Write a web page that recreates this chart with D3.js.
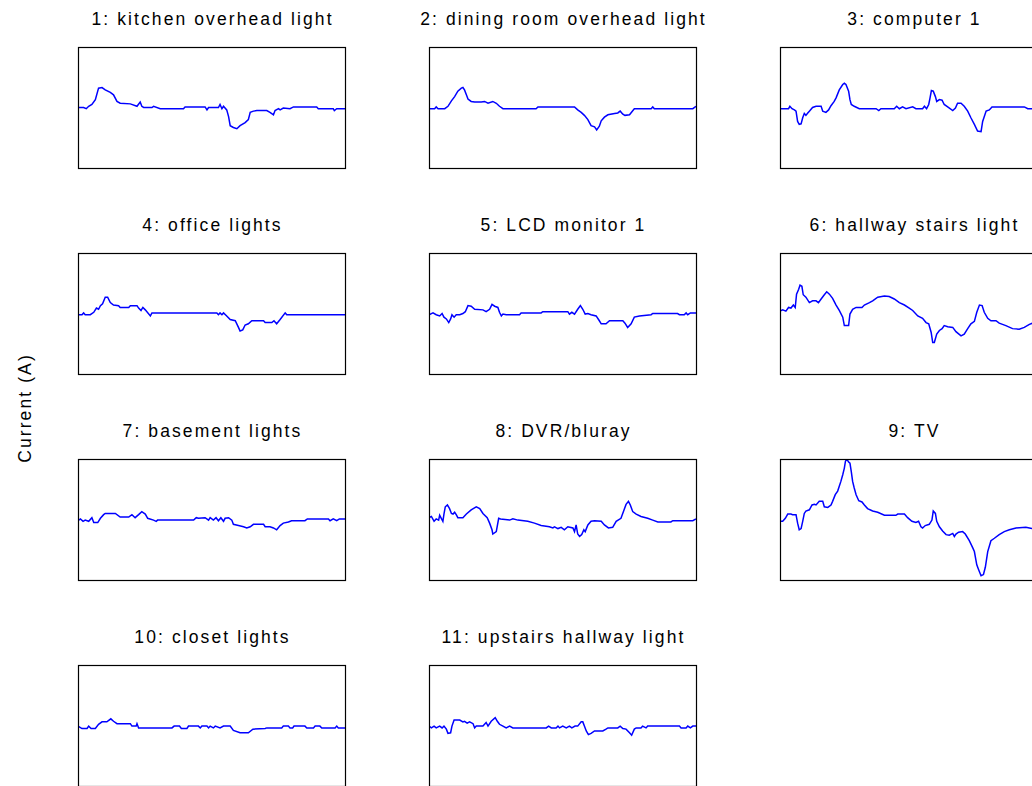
<!DOCTYPE html>
<html>
<head>
<meta charset="utf-8">
<script src="https://cdn.jsdelivr.net/npm/d3@7"></script>
<style>
  body { margin: 0; background: #fff; }
  svg { display: block; }
  text { font-family: "Liberation Sans", Arial, Helvetica, sans-serif; font-size: 17.5px; letter-spacing: 2.1px; fill: #000; }
</style>
</head>
<body>
<div id="chart"></div>
<script>
// Appliance names, one small panel each
const titles = [
  "1: kitchen overhead light",
  "2: dining room overhead light",
  "3: computer 1",
  "4: office lights",
  "5: LCD monitor 1",
  "6: hallway stairs light",
  "7: basement lights",
  "8: DVR/bluray",
  "9: TV",
  "10: closet lights",
  "11: upstairs hallway light"
];

const yLabel = "Current (A)";

// Normalized current signatures: [sample position (0-100), current]
const kitchenOverhead = [[0,0],[2.1,0],[3.1,-0.02],[4.0,0.02],[5.2,0.05],[6.5,0.13],[7.7,0.32],[9.0,0.33],[10.2,0.29],[12.1,0.25],[13.3,0.21],[14.6,0.10],[15.8,0.07],[19.6,0.06],[22.1,0.02],[23.3,0.09],[23.9,0.02],[24.6,0],[27.7,0],[28.3,0.02],[30.8,-0.02],[39.5,-0.02],[40.1,0.01],[47.6,0.01],[48.3,-0.04],[48.9,0],[52.6,0],[53.2,0.05],[53.9,-0.02],[54.5,0.02],[55.7,-0.04],[56.4,-0.15],[57.0,-0.30],[58.2,-0.33],[59.5,-0.35],[60.7,-0.30],[62.6,-0.25],[63.8,-0.20],[64.5,-0.08],[65.7,-0.06],[67.0,-0.05],[70.7,-0.05],[71.9,-0.08],[73.2,-0.12],[73.8,-0.05],[75.1,-0.02],[75.7,-0.04],[76.9,-0.01],[79.4,-0.02],[80.7,0.01],[89.4,0.01],[90.0,-0.02],[95.6,-0.02],[96.0,-0.05],[96.9,-0.02],[100,-0.02]];

const diningOverhead = [[0,-0.02],[2.1,-0.02],[2.7,0.01],[3.4,-0.02],[5.9,-0.02],[7.1,0.02],[8.4,0.11],[9.6,0.18],[10.8,0.27],[12.1,0.32],[12.7,0.33],[13.3,0.29],[14.0,0.21],[14.6,0.14],[15.8,0.10],[17.1,0.09],[19.6,0.09],[20.8,0.10],[22.1,0.07],[23.9,0.10],[25.2,0.07],[26.4,0.02],[27.7,-0.02],[40.1,-0.02],[40.8,0.01],[54.5,0.01],[55.7,-0.04],[57.0,-0.08],[58.2,-0.13],[59.5,-0.20],[60.7,-0.30],[62.0,-0.32],[62.8,-0.37],[63.8,-0.31],[64.5,-0.22],[65.7,-0.16],[67.0,-0.12],[69.5,-0.10],[70.7,-0.09],[71.6,-0.06],[72.6,-0.11],[73.4,-0.13],[75.1,-0.12],[76.9,-0.02],[83.2,-0.02],[83.8,0.01],[84.4,-0.02],[98.8,-0.02],[100,0.02]];

const computer1 = [[0,-0.02],[3.2,-0.02],[3.7,0.02],[4.5,-0.02],[5.4,-0.04],[6.0,-0.06],[6.6,-0.23],[7.2,-0.28],[7.9,-0.27],[8.5,-0.17],[9.1,-0.10],[9.7,-0.13],[10.4,-0.09],[11.0,-0.06],[12.2,0],[13.5,0.02],[15.4,0.02],[16.0,-0.06],[17.2,-0.08],[18.2,-0.04],[19.1,0.03],[20.3,0.10],[21.0,0.16],[22.2,0.29],[23.5,0.38],[24.1,0.40],[24.7,0.38],[25.7,0.27],[26.2,0.13],[26.7,0.05],[27.8,0.02],[29.7,-0.02],[36.0,-0.02],[37.0,-0.05],[37.8,-0.02],[42.8,-0.02],[43.7,0.02],[44.7,-0.02],[45.9,0.01],[47.2,-0.02],[49.7,0.01],[50.9,-0.02],[53.4,-0.02],[54.1,0.02],[54.9,-0.02],[55.7,0.05],[56.2,0.16],[56.7,0.28],[57.4,0.27],[58.2,0.18],[58.7,0.10],[59.7,0.13],[60.7,0.12],[61.5,0.05],[62.8,0.01],[64.7,-0.05],[65.7,-0.01],[66.5,0.07],[67.8,0.07],[69.0,0.02],[70.3,-0.06],[71.5,-0.17],[72.8,-0.28],[74.0,-0.39],[75.3,-0.40],[75.9,-0.23],[77.2,-0.06],[78.4,-0.04],[79.4,0.01],[91.5,0.01],[92.8,-0.02],[94.6,-0.02],[100,-0.02]];

const officeLights = [[0,-0.02],[1.5,-0.02],[2.1,0.01],[2.7,-0.02],[4.6,-0.02],[5.9,0.02],[6.9,0.09],[7.7,0.07],[8.4,0.13],[9.2,0.16],[10.2,0.27],[11.1,0.27],[12.1,0.18],[13.3,0.14],[15.2,0.13],[15.8,0.10],[19.0,0.10],[19.6,0.13],[22.1,0.13],[22.7,0.09],[23.6,0.05],[24.3,0.10],[25.2,0.06],[27.1,-0.04],[27.7,0.01],[52.0,0.01],[52.6,-0.02],[53.2,0.01],[53.9,-0.02],[54.5,0.01],[55.7,-0.04],[57.0,-0.10],[58.9,-0.12],[60.1,-0.23],[60.7,-0.29],[61.7,-0.27],[62.6,-0.19],[63.8,-0.17],[65.1,-0.12],[69.5,-0.12],[70.1,-0.15],[72.6,-0.15],[73.4,-0.12],[74.4,-0.17],[75.7,-0.10],[77.6,0.01],[78.2,-0.02],[100,-0.02]];

const lcdMonitor1 = [[0,-0.02],[1.5,0.01],[2.7,-0.02],[4.0,-0.04],[4.9,0],[5.6,-0.06],[6.5,-0.09],[7.4,-0.15],[8.1,-0.09],[8.6,-0.02],[9.4,-0.06],[10.2,-0.02],[11.5,-0.02],[12.7,0],[13.6,0.03],[14.6,0.13],[15.8,0.12],[17.1,0.07],[20.2,0.06],[21.4,0.03],[22.7,0.07],[23.6,0.15],[24.6,0.12],[25.8,0.10],[26.4,0.02],[27.1,-0.04],[27.7,-0.01],[28.9,-0.02],[33.9,-0.02],[34.5,0.01],[42.0,0.01],[42.6,0.03],[52.0,0.03],[52.6,-0.01],[53.5,0.02],[54.5,-0.01],[55.7,0.07],[56.7,0.13],[57.6,0.07],[58.5,-0.01],[59.5,0],[60.7,-0.02],[62.6,-0.04],[63.8,-0.12],[64.5,-0.17],[66.3,-0.17],[67.6,-0.12],[72.6,-0.12],[73.4,-0.16],[74.4,-0.23],[75.7,-0.17],[76.9,-0.06],[78.8,-0.04],[83.2,-0.02],[83.8,0],[93.1,0],[93.8,-0.02],[95.6,-0.02],[96.3,0.01],[96.9,-0.02],[97.9,0.01],[100,0.01]];

const hallwayStairs = [[0,0.04],[1.0,0.06],[2.2,0.04],[3.2,0.10],[4.1,0.09],[5.0,0.14],[5.7,0.10],[6.2,0.32],[7.0,0.40],[7.5,0.47],[8.2,0.45],[8.7,0.31],[9.7,0.27],[11.0,0.18],[12.2,0.21],[13.5,0.21],[14.4,0.18],[15.4,0.24],[16.6,0.31],[17.5,0.36],[18.5,0.32],[19.7,0.25],[21.0,0.14],[22.2,0.05],[23.5,-0.06],[24.1,-0.20],[25.7,-0.20],[26.2,-0.01],[27.2,0.07],[28.5,0.10],[30.7,0.10],[31.6,0.14],[33.5,0.18],[34.7,0.21],[36.6,0.27],[39.1,0.29],[40.9,0.28],[42.8,0.24],[44.7,0.18],[46.6,0.14],[48.4,0.09],[49.7,0.05],[51.6,-0.04],[53.4,-0.08],[54.7,-0.15],[55.7,-0.17],[56.6,-0.31],[57.2,-0.48],[57.8,-0.48],[58.7,-0.34],[59.7,-0.28],[60.7,-0.25],[61.5,-0.20],[62.8,-0.22],[64.7,-0.23],[65.9,-0.30],[67.8,-0.37],[69.0,-0.34],[70.3,-0.25],[71.5,-0.17],[72.8,-0.13],[73.7,0.02],[74.7,0.14],[75.7,0.13],[76.5,0.02],[77.8,-0.08],[79.0,-0.12],[80.9,-0.12],[82.1,-0.16],[84.6,-0.20],[87.1,-0.25],[89.6,-0.26],[91.5,-0.23],[93.4,-0.18],[94.6,-0.16],[100,-0.12]];

const basementLights = [[0,-0.02],[0.9,0.01],[1.9,-0.03],[2.7,-0.01],[4.0,-0.03],[5.2,0.03],[5.9,-0.05],[7.4,-0.05],[8.4,0.02],[9.6,0.08],[10.2,0.10],[14.0,0.10],[15.8,0.04],[19.0,0.04],[20.2,0.08],[21.4,0.03],[22.7,0.08],[23.9,0.13],[25.2,0.09],[26.1,0.02],[28.3,-0.01],[29.3,-0.03],[29.8,-0.01],[43.3,-0.01],[44.3,0.03],[45.1,0.02],[47.6,0.03],[48.9,-0.01],[49.5,0.03],[50.7,-0.01],[51.7,0.03],[52.6,-0.02],[53.5,0.03],[54.5,-0.03],[55.1,0.02],[56.4,0.03],[57.6,-0.01],[58.2,-0.08],[60.1,-0.10],[62.0,-0.12],[63.2,-0.14],[64.5,-0.12],[65.7,-0.08],[69.5,-0.08],[70.1,-0.12],[71.9,-0.12],[73.2,-0.14],[74.4,-0.17],[75.7,-0.10],[76.9,-0.06],[78.8,-0.04],[80.0,-0.02],[85.0,-0.02],[85.9,0.01],[93.8,0.01],[94.4,-0.02],[95.6,0.01],[96.9,-0.02],[97.9,0.01],[100,0.01]];

const dvrBluray = [[0,0.03],[0.9,0.05],[1.9,-0.03],[2.7,0.01],[3.6,-0.01],[4.0,0.07],[4.6,0.02],[5.2,-0.03],[5.6,0.09],[6.1,0.21],[6.9,0.24],[7.7,0.18],[8.4,0.10],[9.0,0.09],[9.6,0.12],[10.2,0.08],[10.8,0.03],[12.7,0.03],[14.0,0.09],[15.8,0.16],[17.7,0.21],[19.0,0.18],[20.2,0.10],[21.8,0.03],[22.7,-0.06],[23.6,-0.17],[23.9,-0.24],[25.2,-0.20],[26.1,0.02],[26.8,0.01],[30.2,-0.01],[31.4,0.01],[33.3,-0.01],[37.0,-0.03],[39.5,-0.06],[42.0,-0.10],[45.1,-0.12],[46.4,-0.14],[47.0,-0.12],[48.3,-0.15],[49.5,-0.13],[50.7,-0.17],[52.0,-0.12],[53.9,-0.14],[54.5,-0.20],[55.1,-0.09],[55.7,-0.24],[56.4,-0.28],[57.2,-0.25],[58.0,-0.17],[58.5,-0.20],[59.5,-0.09],[60.7,-0.03],[62.0,-0.02],[64.5,-0.03],[65.7,-0.09],[67.2,-0.14],[68.8,-0.13],[70.1,-0.03],[71.9,0.02],[72.9,0.14],[73.8,0.25],[74.7,0.30],[75.4,0.24],[76.3,0.13],[77.6,0.09],[79.4,0.05],[81.9,0.02],[83.8,-0.01],[85.7,-0.04],[90.6,-0.04],[91.3,-0.02],[98.8,-0.02],[100,0.01]];

const tv = [[0,-0.03],[1.0,-0.03],[2.0,0.02],[2.9,0.09],[4.1,0.09],[4.7,0.08],[6.0,0.08],[6.6,-0.06],[7.2,-0.17],[7.9,-0.15],[8.5,-0.03],[9.1,0.10],[9.7,0.14],[11.0,0.16],[12.0,0.24],[12.9,0.25],[13.5,0.24],[14.7,0.30],[16.0,0.30],[16.6,0.21],[17.9,0.20],[19.1,0.24],[19.7,0.30],[20.7,0.41],[21.6,0.47],[22.2,0.55],[22.8,0.63],[23.5,0.74],[24.1,0.85],[24.5,0.96],[25.0,1.0],[25.7,0.95],[26.2,0.93],[26.7,0.79],[27.2,0.63],[27.8,0.52],[28.5,0.41],[29.5,0.31],[30.7,0.29],[31.6,0.24],[32.8,0.18],[34.7,0.14],[36.6,0.12],[39.1,0.07],[43.4,0.07],[44.1,0.09],[46.6,0.09],[47.8,0.03],[49.4,-0.03],[50.9,-0.05],[51.9,-0.03],[52.8,-0.12],[53.4,-0.14],[54.4,-0.10],[55.9,-0.08],[56.9,-0.01],[57.4,0.14],[58.2,0.10],[58.7,-0.03],[59.7,-0.12],[60.9,-0.19],[62.2,-0.25],[63.4,-0.26],[64.7,-0.23],[65.3,-0.28],[65.9,-0.24],[66.9,-0.21],[68.4,-0.20],[69.4,-0.24],[70.9,-0.35],[72.2,-0.47],[72.8,-0.53],[73.7,-0.75],[74.4,-0.83],[75.3,-0.93],[76.2,-0.91],[76.9,-0.79],[77.8,-0.53],[79.0,-0.35],[80.3,-0.31],[82.1,-0.25],[84.0,-0.20],[85.9,-0.17],[88.4,-0.14],[92.1,-0.13],[93.4,-0.14],[94.6,-0.15],[100,-0.15]];

const closetLights = [[0,-0.01],[1.5,-0.05],[3.4,-0.05],[4.0,-0.01],[4.9,-0.05],[6.5,-0.05],[7.7,0.02],[9.0,0.06],[10.8,0.06],[12.3,0.11],[13.3,0.07],[14.6,0.03],[19.6,0.03],[20.2,-0.01],[21.8,-0.01],[22.1,0.03],[22.7,-0.04],[35.2,-0.04],[36.0,-0.01],[38.0,-0.01],[38.7,-0.05],[40.8,-0.05],[41.4,-0.01],[45.1,-0.01],[45.8,-0.04],[46.4,-0.01],[48.3,-0.01],[48.9,-0.04],[49.5,-0.01],[50.7,-0.04],[51.4,-0.01],[53.2,-0.04],[54.5,-0.01],[57.0,-0.01],[58.2,-0.08],[60.7,-0.12],[63.8,-0.12],[65.5,-0.06],[70.1,-0.05],[70.7,-0.04],[76.3,-0.04],[76.9,-0.01],[78.8,-0.01],[79.4,-0.04],[80.4,-0.04],[80.9,-0.01],[85.0,-0.01],[85.7,-0.04],[88.2,-0.04],[88.8,-0.01],[90.6,-0.01],[91.3,-0.04],[96.3,-0.04],[96.9,-0.01],[97.5,-0.04],[100,-0.04]];

const upstairsHallway = [[0,-0.01],[0.9,-0.04],[1.9,-0.01],[2.7,-0.04],[4.0,-0.01],[4.9,-0.04],[5.6,-0.01],[6.5,-0.06],[7.1,-0.13],[8.1,-0.12],[8.6,-0.01],[9.4,0.09],[11.5,0.09],[12.7,0.06],[13.3,0.07],[14.3,0.04],[15.2,0.06],[16.5,0.03],[17.1,-0.04],[17.7,-0.01],[20.2,-0.01],[21.4,0.05],[22.1,-0.01],[23.3,0.07],[24.8,0.13],[25.6,0.07],[26.4,0.02],[27.7,-0.01],[28.9,-0.04],[30.2,-0.01],[31.4,-0.04],[43.9,-0.04],[44.8,-0.01],[45.8,-0.04],[47.6,-0.04],[48.3,-0.01],[48.9,-0.04],[50.1,-0.01],[51.4,-0.04],[52.6,-0.01],[53.5,-0.04],[54.7,-0.01],[55.7,-0.01],[57.0,0.06],[57.6,0.06],[58.2,-0.01],[58.9,-0.09],[59.7,-0.15],[60.7,-0.13],[62.0,-0.09],[65.1,-0.09],[66.3,-0.06],[67.0,-0.04],[70.7,-0.04],[71.6,-0.01],[72.6,-0.05],[73.8,-0.06],[75.1,-0.12],[75.9,-0.16],[76.9,-0.06],[77.6,-0.04],[79.4,-0.04],[80.0,-0.01],[81.3,-0.04],[81.9,-0.01],[93.8,-0.01],[94.4,-0.04],[96.3,-0.04],[96.9,-0.01],[97.9,-0.04],[98.8,-0.01],[100,-0.01]];

const series = [kitchenOverhead, diningOverhead, computer1, officeLights, lcdMonitor1,
  hallwayStairs, basementLights, dvrBluray, tv, closetLights, upstairsHallway];

// Figure layout
const W = 1032, H = 786;
const nCols = 3;
const panelW = 267, panelH = 121;
const left0 = 78, top0 = 47;
const colStep = 351, rowStep = 206;

const svg = d3.select("#chart").append("svg")
  .attr("width", W).attr("height", H);

const x = d3.scaleLinear().domain([0, 100]).range([0, panelW]);
const y = d3.scaleLinear().domain([-1, 1]).range([panelH, 0]);

const line = d3.line().x(d => x(d[0])).y(d => y(d[1]));

svg.append("defs").append("clipPath").attr("id", "plot-area")
  .append("rect").attr("width", panelW).attr("height", panelH);

series.forEach((data, i) => {
  const col = i % nCols, row = Math.floor(i / nCols);
  const g = svg.append("g")
    .attr("transform", `translate(${left0 + col * colStep},${top0 + row * rowStep})`);

  g.append("rect")
    .attr("width", panelW).attr("height", panelH)
    .attr("fill", "#fff");

  g.append("path")
    .datum(data)
    .attr("clip-path", "url(#plot-area)")
    .attr("fill", "none")
    .attr("stroke", "#0000ff")
    .attr("stroke-width", 1.5)
    .attr("stroke-linejoin", "miter")
    .attr("d", line);

  g.append("rect")
    .attr("x", 0.5).attr("y", 0.5)
    .attr("width", panelW).attr("height", panelH)
    .attr("fill", "none")
    .attr("stroke", "#000")
    .attr("stroke-width", 1.2);

  g.append("text")
    .attr("x", panelW / 2 + 1)
    .attr("y", -22)
    .attr("text-anchor", "middle")
    .text(titles[i]);
});

svg.append("text")
  .attr("transform", "translate(31,409) rotate(-90)")
  .attr("text-anchor", "middle")
  .attr("dx", 1)
  .text(yLabel);
</script>
</body>
</html>
